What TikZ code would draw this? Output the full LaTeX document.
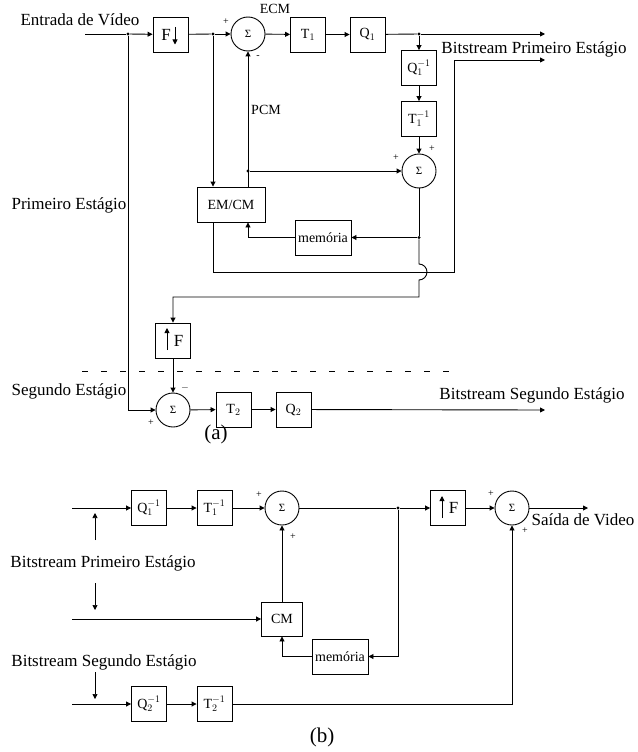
\documentclass[tikz,border=0pt]{standalone}
\usepackage{fontspec}
\setmainfont{Liberation Serif}
\usetikzlibrary{arrows.meta}
\begin{document}
\begin{tikzpicture}[x=1pt,y=-1pt,
  every node/.style={inner sep=0pt},
  blk/.style={draw, line width=0.9pt, minimum width=35pt, minimum height=35pt, font=\fontsize{14}{14}\selectfont},
  sumc/.style={draw, circle, line width=0.9pt, minimum size=34pt, font=\fontsize{11}{11}\selectfont},
  jd/.style={circle, fill, minimum size=3.2pt},
  ln/.style={line width=0.9pt},
  ar/.style={line width=0.9pt, -{Triangle[length=5pt,width=5pt]}},
  big/.style={font=\fontsize{17}{17}\selectfont},
  mid/.style={font=\fontsize{14}{14}\selectfont},
  sg/.style={font=\fontsize{10}{10}\selectfont},
  subcap/.style={font=\fontsize{21}{21}\selectfont},
]
\useasboundingbox (0,0) rectangle (637,752);

% ---------------- (a) ----------------
\coordinate (in) at (85,34);
\node[jd] (j1) at (128,34) {};
\node[blk] (Fd) at (170.5,34.5) {};
\node[big] (Fdl) at (166,34.5) {F};
\node[jd] (j2) at (213,34) {};
\node[sumc] (s1) at (248,34) {Σ};
\node[blk] (T1) at (308,34.5) {T$_1$};
\node[blk] (Q1) at (367.5,34.5) {Q$_1$};
\node[jd] (j3) at (419,34) {};
\coordinate (out1) at (545,34);
\node[blk] (Q1i) at (419,68) {Q$_1^{-1}$};
\node[blk] (T1i) at (419,119) {T$_1^{-1}$};
\node[sumc] (s2) at (419,171) {Σ};
\node[jd] (j4) at (248,171) {};
\node[blk, minimum width=68pt] (EMCM) at (231,204.5) {EM/CM};
\node[blk, minimum width=56pt] (mem) at (323,237.5) {memória};
\node[jd] (j5) at (419,237.5) {};
\coordinate (c1) at (213,272);
\coordinate (c2) at (454,272);
\coordinate (c3) at (454,60);
\coordinate (out2) at (545,60);
\coordinate (h1) at (419,264);
\coordinate (h2) at (419,297);
\node[blk] (Fu) at (173,340.5) {};
\node[big] (Ful) at (178.5,340.5) {F};
\node[sumc] (s3) at (173,410) {Σ};
\node[blk] (T2) at (233.5,409.5) {T$_2$};
\node[blk] (Q2) at (293.5,409.5) {Q$_2$};
\coordinate (out3) at (545,410);
\coordinate (d1) at (82,371);
\coordinate (d2) at (460,371);

\node[big] (lin) at (80,20) {Entrada de Vídeo};
\node[mid] (lecm) at (275,9) {ECM};
\node[mid] (lpcm) at (266,110) {PCM};
\node[big] (lbp1) at (534,49) {Bitstream Primeiro Estágio};
\node[big] (lpe) at (69,205) {Primeiro Estágio};
\node[big] (lse) at (69,391) {Segundo Estágio};
\node[big] (lbs1) at (532,395) {Bitstream Segundo Estágio};
\node[subcap] (la) at (216,434) {(a)};
\node[sg] (p1) at (226,22) {+};
\node[sg] (m1) at (258,57) {-};
\node[sg] (p2) at (396,158) {+};
\node[sg] (p3) at (432,149) {+};
\node[sg] (m3) at (185,388) {$-$};
\node[sg] (p4) at (151,423) {+};

% arrows inside F boxes
\draw[ar] (175,27) -- (175,44.5);
\draw[ar] (167,350) -- (167,328);

\draw[ln] (in) -- (j1);
\draw[ar] (j1) -- (Fd);
\draw[ln] (Fd) -- (j2);
\draw[ar] (j2) -- (s1);
\draw[ar] (s1) -- (T1);
\draw[ar] (T1) -- (Q1);
\draw[ln] (Q1) -- (j3);
\draw[ar] (j3) -- (out1);
\draw[ar] (j3) -- (Q1i);
\draw[ar] (Q1i) -- (T1i);
\draw[ar] (T1i) -- (s2);
\draw[ar] (j2) -- (j2 |- EMCM.north);
\draw[ar] (EMCM.north -| s1) -- (s1);
\draw[ar] (j4) -- (s2);
\draw[ln] (s2) -- (j5);
\draw[ar] (j5) -- (mem);
\draw[ar] (mem.west) -| (EMCM.south -| s1);
\draw[ar] (EMCM.south -| j2) -- (c1) -- (c2) -- (c3) -- (out2);
\draw[ar] (j5) -- (h1) arc[start angle=90,end angle=-90,radius=8pt] -- (h2) -| (Fu.north);
\draw[ar] (Fu) -- (s3);
\draw[ar] (j1) |- (s3);
\draw[ar] (s3) -- (T2);
\draw[ar] (T2) -- (Q2);
\draw[ar] (Q2) -- (out3);
\draw[line width=0.9pt, dash pattern=on 6pt off 13pt] (d1) -- (d2);

% ---------------- (b) ----------------
\coordinate (ib1) at (72,508);
\coordinate (ib2) at (72,619);
\coordinate (ib3) at (72,704);
\node[blk] (Q1b) at (149,508) {Q$_1^{-1}$};
\node[blk] (T1b) at (214.5,508) {T$_1^{-1}$};
\node[sumc] (sb1) at (282,508) {Σ};
\node[blk, minimum width=41pt, minimum height=34pt] (CM) at (282,619) {CM};
\node[blk, minimum width=56pt] (memb) at (340,656.5) {memória};
\node[jd] (jb) at (398,508) {};
\node[blk] (Fub) at (448,508) {};
\node[big] (Fubl) at (453.5,508) {F};
\node[sumc] (sb2) at (512,508) {Σ};
\coordinate (outb) at (588,508);
\node[blk] (Q2b) at (149,704) {Q$_2^{-1}$};
\node[blk] (T2b) at (214.5,704) {T$_2^{-1}$};

\node[big] (lsv) at (583,520) {Saída de Video};
\node[big] (lbp2) at (103,563) {Bitstream Primeiro Estágio};
\node[big] (lbs2) at (104,662) {Bitstream Segundo Estágio};
\node[subcap] (lb) at (322,737) {(b)};
\node[sg] (q1) at (259,495) {+};
\node[sg] (q2) at (293,537) {+};
\node[sg] (q3) at (491,494) {+};
\node[sg] (q4) at (525,531) {+};

\coordinate (a1s) at (95,540);
\coordinate (a1e) at (95,513);
\coordinate (a2s) at (95,583);
\coordinate (a2e) at (95,610);
\coordinate (a3s) at (95,672);
\coordinate (a3e) at (95,699);
\draw[ln, -{Triangle[length=5pt,width=5pt]}, line width=0.7pt] (a1s) -- (a1e);
\draw[ln, -{Triangle[length=5pt,width=5pt]}, line width=0.7pt] (a2s) -- (a2e);
\draw[ln, -{Triangle[length=5pt,width=5pt]}, line width=0.7pt] (a3s) -- (a3e);

\draw[ar] (442,518) -- (442,496);

\draw[ar] (ib1) -- (Q1b);
\draw[ar] (Q1b) -- (T1b);
\draw[ar] (T1b) -- (sb1);
\draw[ln] (sb1) -- (jb);
\draw[ar] (jb) -- (Fub);
\draw[ar] (Fub) -- (sb2);
\draw[ar] (sb2) -- (outb);
\draw[ar] (ib2) -- (CM);
\draw[ar] (CM) -- (sb1);
\draw[ar] (jb) |- (memb);
\draw[ar] (memb) -| (CM);
\draw[ar] (ib3) -- (Q2b);
\draw[ar] (Q2b) -- (T2b);
\draw[ar] (T2b) -| (sb2);
\end{tikzpicture}
\end{document}
